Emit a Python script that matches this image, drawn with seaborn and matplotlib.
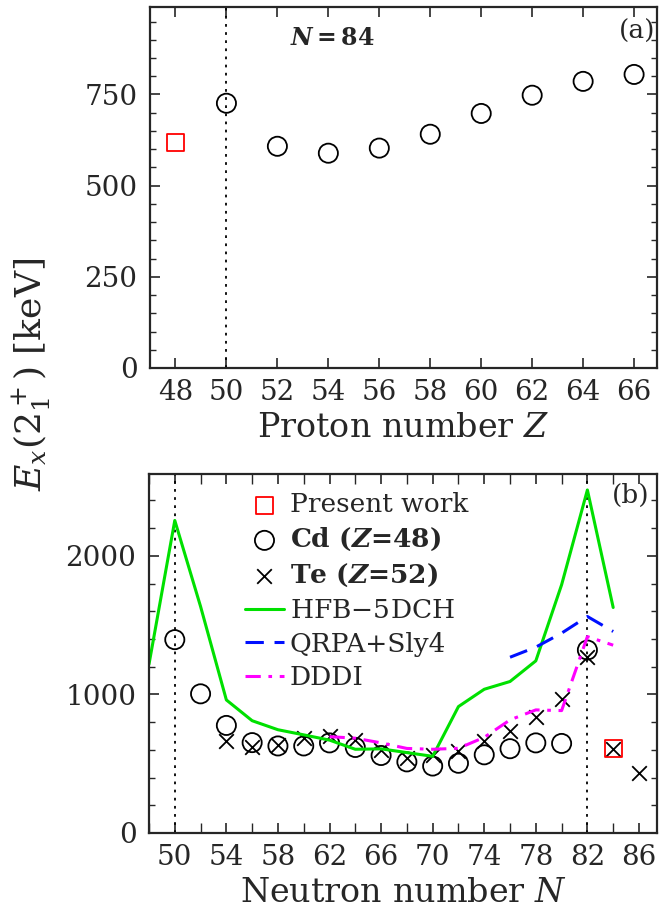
import numpy as np
import pandas as pd
import matplotlib
matplotlib.use("Agg")
import matplotlib.pyplot as plt
from matplotlib.ticker import MultipleLocator
import seaborn as sns

# --- panel (a): N = 84 isotones ---
z_present = [48]
e_present_z = [619]
z_known = [50, 52, 54, 56, 58, 60, 62, 64, 66]
e_known_z = [726, 608, 589, 603, 641, 698, 748, 786, 805]

# --- panel (b): Cd and Te chains ---
n_present = [84]
e_present_n = [610]
n_cd = [50, 52, 54, 56, 58, 60, 62, 64, 66, 68, 70, 72, 74, 76, 78, 80, 82]
e_cd = [1395, 1004, 776, 652, 628, 628, 650, 617, 559, 513, 483, 503, 564, 608, 650, 646, 1320]
n_te = [54, 56, 58, 60, 62, 64, 66, 68, 70, 72, 74, 76, 78, 80, 82, 84, 86]
e_te = [662, 617, 632, 683, 699, 670, 599, 539, 560, 590, 661, 736, 837, 967, 1270, 606, 436]
n_hfb = [48, 50, 52, 54, 56, 58, 60, 62, 64, 66, 68, 70, 72, 74, 76, 78, 80, 82, 84]
e_hfb = [1218, 2255, 1634, 960, 810, 745, 708, 670, 604, 607, 580, 553, 912, 1037, 1093, 1242, 1791, 2475, 1627]
n_qrpa = [76, 78, 80, 82, 84]
e_qrpa = [1268, 1341, 1442, 1562, 1454]
n_dddi = [62, 64, 66, 68, 70, 72, 74, 76, 78, 80, 82, 84]
e_dddi = [695, 684, 650, 610, 604, 611, 690, 816, 888, 883, 1417, 1355]

sns.set_theme(style="ticks")
plt.rcParams["font.family"] = ["DejaVu Serif"]
plt.rcParams["mathtext.fontset"] = "dejavuserif"
plt.rcParams["axes.linewidth"] = 1.6
for ax_ in ("xtick", "ytick"):
    plt.rcParams[ax_ + ".direction"] = "in"
    plt.rcParams[ax_ + ".major.size"] = 7
    plt.rcParams[ax_ + ".minor.size"] = 4
    plt.rcParams[ax_ + ".major.width"] = 1.2
    plt.rcParams[ax_ + ".minor.width"] = 1.0
    plt.rcParams[ax_ + ".labelsize"] = 20
plt.rcParams["xtick.major.pad"] = 8
plt.rcParams["ytick.major.pad"] = 9
plt.rcParams["xtick.top"] = True
plt.rcParams["ytick.right"] = True

fig = plt.figure(figsize=(6.59, 9.19), dpi=100)
ax1 = fig.add_axes([0.2276, 0.5996, 0.7694, 0.3928])
ax2 = fig.add_axes([0.2261, 0.0936, 0.7709, 0.3906])

circ = dict(marker="o", s=190, facecolor="none", edgecolor="black", linewidth=1.3)
sq = dict(marker="s", s=150, facecolor="none", edgecolor="red", linewidth=1.3)
crs = dict(marker="x", s=110, color="black", linewidth=1.3)

# panel (a)
ax1.axvline(50, color="black", linestyle=(0, (1.5, 3)), linewidth=1.3)
sns.scatterplot(x=z_present, y=e_present_z, ax=ax1, **sq)
sns.scatterplot(x=z_known, y=e_known_z, ax=ax1, **circ)
ax1.set_xlim(47.0, 66.9)
ax1.set_ylim(0, 990)
ax1.xaxis.set_major_locator(MultipleLocator(2))
ax1.yaxis.set_major_locator(MultipleLocator(250))
ax1.yaxis.set_minor_locator(MultipleLocator(50))
ax1.set_xlabel("Proton number $Z$", fontsize=24, labelpad=4)
ax1.set_ylabel("")
ax1.text(0.359, 0.915, r"$\mathbfit{N}$$\mathbf{=84}$", transform=ax1.transAxes,
         fontsize=17, fontweight="bold", ha="center", va="center")
ax1.text(0.997, 0.932, "(a)", transform=ax1.transAxes, fontsize=19, ha="right", va="center")

# panel (b)
for nv in (50, 82):
    ax2.axvline(nv, color="black", linestyle=(0, (1.5, 3)), linewidth=1.3)
sns.lineplot(x=n_hfb, y=e_hfb, ax=ax2, color="#00e000", linewidth=2.2, label="HFB$-$5DCH")
sns.lineplot(x=n_qrpa, y=e_qrpa, ax=ax2, color="#0010ff", linewidth=2.2,
             linestyle=(0, (6, 3.5)), label="QRPA+Sly4")
sns.lineplot(x=n_dddi, y=e_dddi, ax=ax2, color="#ff00ff", linewidth=2.2,
             linestyle=(0, (5, 2.5, 1.2, 2.5)), label="DDDI")
sns.scatterplot(x=n_cd, y=e_cd, ax=ax2, label=r"Cd ($\mathbfit{Z}$=48)", **circ)
sns.scatterplot(x=n_te, y=e_te, ax=ax2, label=r"Te ($\mathbfit{Z}$=52)", **crs)
sns.scatterplot(x=n_present, y=e_present_n, ax=ax2, label="Present work", **sq)
ax2.set_xlim(48, 87.4)
ax2.set_ylim(0, 2590)
ax2.set_xticks(np.arange(50, 87, 4))
ax2.xaxis.set_minor_locator(MultipleLocator(2))
ax2.tick_params(axis="x", which="minor", length=7)
ax2.yaxis.set_major_locator(MultipleLocator(1000))
ax2.yaxis.set_minor_locator(MultipleLocator(200))
ax2.set_xlabel("Neutron number $N$", fontsize=24, labelpad=4)
ax2.set_ylabel("")
ax2.text(0.985, 0.94, "(b)", transform=ax2.transAxes, fontsize=19, ha="right", va="center")

handles, labels = ax2.get_legend_handles_labels()
order = ["Present work", r"Cd ($\mathbfit{Z}$=48)", r"Te ($\mathbfit{Z}$=52)",
         "HFB$-$5DCH", "QRPA+Sly4", "DDDI"]
hmap = dict(zip(labels, handles))
leg = ax2.legend([hmap[k] for k in order], order, loc="upper left",
                 bbox_to_anchor=(0.152, 1.0), frameon=False, fontsize=19,
                 handlelength=1.5, handletextpad=0.2, labelspacing=0.33,
                 borderaxespad=0.3)
for t in leg.get_texts()[1:3]:
    t.set_fontweight("bold")

fig.text(0.047, 0.593, r"$E_x(2_1^+)$ [keV]", rotation=90, fontsize=26,
         ha="center", va="center")

fig.savefig("out.png", dpi=100)
